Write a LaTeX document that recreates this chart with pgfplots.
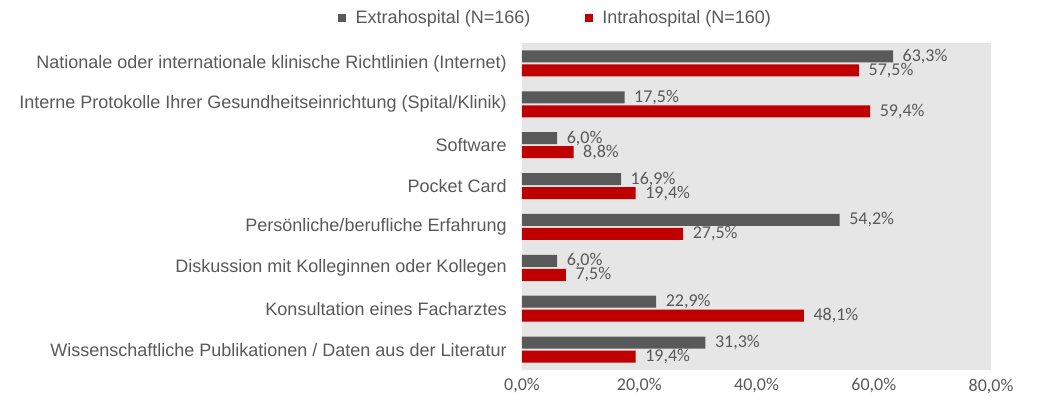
\documentclass[border=0pt]{standalone}
\usepackage{pgfplots}
\pgfplotsset{compat=1.18}
\usepackage{fontspec}
\setmainfont{Liberation Sans}
\newfontfamily\calibri{Carlito}
\definecolor{barGrey}{RGB}{89,89,89}
\definecolor{barRed}{RGB}{192,0,0}
\definecolor{bgGrey}{RGB}{231,230,230}
\definecolor{txtGrey}{RGB}{89,89,89}
\begin{document}
\begin{tikzpicture}
% 1px = 0.75pt, picture 1040x400 px
\path[use as bounding box] (0,0) rectangle (780pt,300pt);
\begin{axis}[
    at={(391.5pt,22.5pt)}, anchor=south west,
    scale only axis,
    width=351.75pt, height=245.25pt,
    xbar, bar width=9pt,
    xmin=0, xmax=80,
    ymin=-0.5, ymax=7.5, y dir=reverse,
    ytick={0,...,7},
    yticklabels={
        Nationale oder internationale klinische Richtlinien (Internet),
        Interne Protokolle Ihrer Gesundheitseinrichtung (Spital/Klinik),
        Software,
        Pocket Card,
        Persönliche/berufliche Erfahrung,
        Diskussion mit Kolleginnen oder Kollegen,
        Konsultation eines Facharztes,
        Wissenschaftliche Publikationen / Daten aus der Literatur},
    xtick={0,20,40,60,80},
    /pgf/number format/assume math mode=true,
    xticklabel={\pgfmathprintnumber[fixed,fixed zerofill,precision=1,use comma]{\tick}\%},
    xticklabel style={font=\calibri\fontsize{13.5pt}{16pt}\selectfont, text=txtGrey, yshift=-3pt},
    yticklabel style={font=\fontsize{13.5pt}{16pt}\selectfont, text=txtGrey, xshift=-8pt},
    major tick length=0pt,
    axis line style={draw=none},
    axis background/.style={fill=bgGrey},
    nodes near coords={\pgfmathprintnumber[fixed,fixed zerofill,precision=1,use comma]{\pgfplotspointmeta}\%},
    point meta=x,
    every node near coord/.append style={font=\calibri\fontsize{13.5pt}{16pt}\selectfont, text=txtGrey, anchor=west, inner sep=0pt, xshift=7pt},
    legend columns=2,
    legend style={at={(0.0725,1.076)}, anchor=center, draw=none, fill=none,
        font=\fontsize{13.5pt}{16pt}\selectfont, text=txtGrey,
        /tikz/every odd column/.append style={column sep=5pt},
        /tikz/every even column/.append style={column sep=39pt}},
    legend image code/.code={\fill[#1] (0pt,-3pt) rectangle (6pt,3pt);},
]
\addplot[fill=barGrey, draw=none, bar shift=5.25pt] coordinates {
    (63.3,0) (17.5,1) (6.0,2) (16.9,3) (54.2,4) (6.0,5) (22.9,6) (31.3,7)
};
\addplot[fill=barRed, draw=none, bar shift=-5.25pt] coordinates {
    (57.5,0) (59.4,1) (8.8,2) (19.4,3) (27.5,4) (7.5,5) (48.1,6) (19.4,7)
};
\legend{Extrahospital (N=166), Intrahospital (N=160)}
\end{axis}
\end{tikzpicture}
\end{document}
